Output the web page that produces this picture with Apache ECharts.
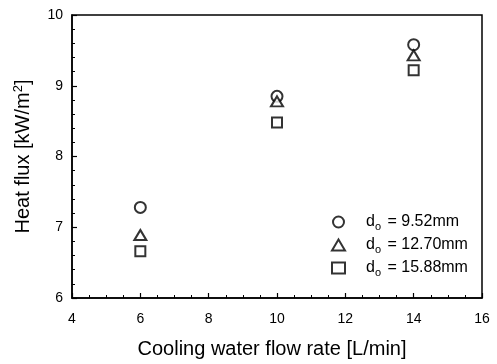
<!DOCTYPE html>
<html>
<head>
<meta charset="utf-8">
<script src="https://cdn.jsdelivr.net/npm/echarts@6/dist/echarts.min.js"></script>
<style>html,body{margin:0;padding:0;background:#fff}#c{width:497px;height:364px}</style>
</head>
<body>
<div id="c"></div>
<script>
const flowRates = [6, 10, 14];
const d952 = [7.28, 8.85, 9.58];
const d1270 = [6.89, 8.78, 9.43];
const d1588 = [6.66, 8.48, 9.22];
const seriesNames = ['9.52mm', '12.70mm', '15.88mm'];
const xTicks = [4, 6, 8, 10, 12, 14, 16];
const yTicks = [6, 7, 8, 9, 10];

const font = 'Liberation Sans, Arial, sans-serif';
const chart = echarts.init(document.getElementById('c'));
function pts(vals){ return flowRates.map((x,i)=>[x, vals[i]]); }
const symbols = ['circle', 'triangle', 'rect'];
const sizes = [11, [12, 10], 10];
const datasets = [d952, d1270, d1588];

chart.setOption({
  animation: false,
  grid: {left: 72, right: 15, top: 15, bottom: 63, show: true, borderColor: '#000', borderWidth: 1.5, backgroundColor: 'transparent'},
  xAxis: {
    type: 'value', min: xTicks[0], max: xTicks[xTicks.length-1], interval: 2,
    name: 'Cooling water flow rate [L/min]', nameLocation: 'middle', nameGap: 41,
    nameTextStyle: {fontFamily: font, fontSize: 20, color: '#000', padding: [0,10,0,0]},
    axisLine: {lineStyle: {color: '#000', width: 1.5}},
    axisTick: {inside: true, length: 5, lineStyle: {color: '#000', width: 1.2}},
    minorTick: {show: true, splitNumber: 4, length: 3, lineStyle: {color: '#000', width: 1}},
    axisLabel: {fontFamily: font, fontSize: 14, color: '#000', margin: 14},
    splitLine: {show: false}
  },
  yAxis: {
    type: 'value', min: yTicks[0], max: yTicks[yTicks.length-1], interval: 1,
    name: '{a|Heat flux [kW/m}{s|2}{a|]}', nameLocation: 'middle', nameGap: 37, nameRotate: 90,
    nameTextStyle: {fontFamily: font, fontSize: 20, color: '#000',
      rich: {a: {fontFamily: font, fontSize: 20, color: '#000'}, s: {fontFamily: font, fontSize: 13, color: '#000', verticalAlign: 'top', padding: [0,0,10,0]}}},
    axisLine: {show: true, lineStyle: {color: '#000', width: 1.5}},
    axisTick: {show: true, inside: true, length: 5, lineStyle: {color: '#000', width: 1.2}},
    minorTick: {show: true, splitNumber: 5, length: 3, lineStyle: {color: '#000', width: 1}},
    axisLabel: {fontFamily: font, fontSize: 14, color: '#000', margin: 9},
    splitLine: {show: false}
  },
  legend: {
    orient: 'vertical', left: 326, top: 209, itemGap: 5, itemWidth: 13, itemHeight: 11,
    data: seriesNames,
    formatter: function(n){ return '{a|d}{s|o}{a| = ' + n + '}'; },
    textStyle: {fontFamily: font, fontSize: 16, color: '#000', padding: [0,0,0,16],
      rich: {a: {fontFamily: font, fontSize: 16, color: '#000', lineHeight: 18}, s: {fontFamily: font, fontSize: 11, color: '#000', verticalAlign: 'bottom', padding: [9,2,0,0]}}}
  },
  series: datasets.map((d, i) => ({
    name: seriesNames[i], type: 'scatter', data: pts(d),
    symbol: symbols[i], symbolSize: sizes[i],
    itemStyle: {color: '#fff', borderColor: '#000', borderWidth: 2}
  }))
});
</script>
</body>
</html>
